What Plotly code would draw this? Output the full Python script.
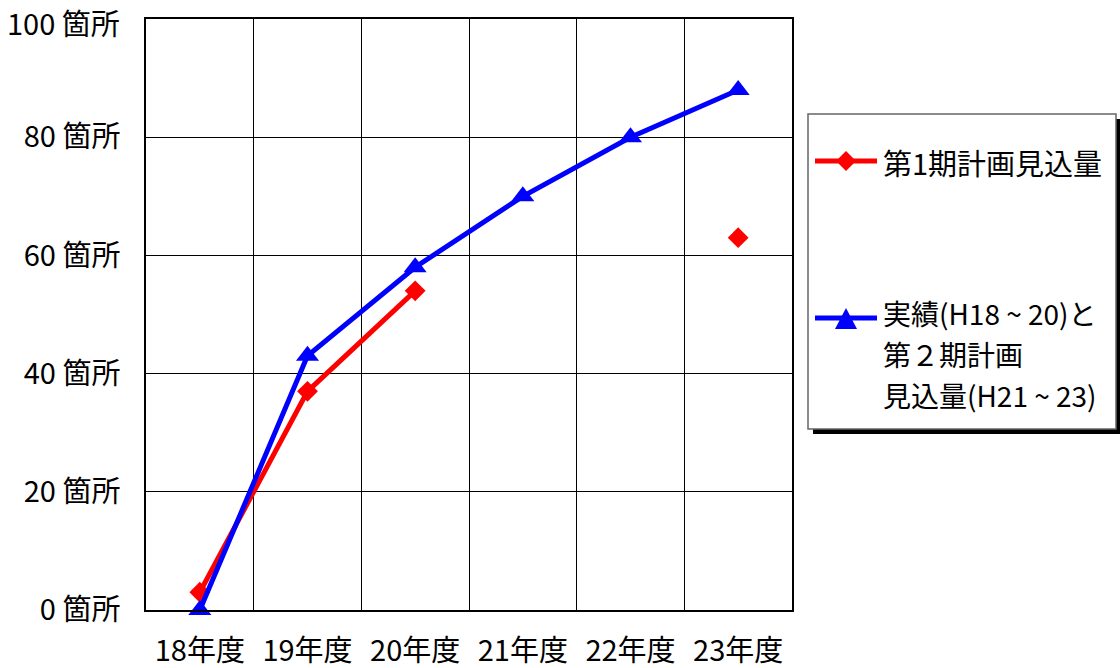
import plotly.graph_objects as go

categories = ["18年度", "19年度", "20年度", "21年度", "22年度", "23年度"]
plan1 = [3, 37, 54, None, None, 63]
actual_plan2 = [0, 43, 58, 70, 80, 88]
y_tickvals = [0, 20, 40, 60, 80, 100]
y_ticktext = [f"{v} 箇所" for v in y_tickvals]
name_red = "第1期計画見込量"
name_blue_lines = ["実績(H18 ~ 20)と", "第２期計画", "見込量(H21 ~ 23)"]

FONT = "Noto Sans CJK JP, Noto Sans, sans-serif"
W, H = 1120, 668
L, R, T, B = 146, 792, 19, 610


def px(x):
    return (x - L) / (R - L)


def py(y):
    return (B - y) / (B - T)


fig = go.Figure()
fig.add_trace(go.Scatter(
    x=categories, y=plan1, mode="lines+markers", name=name_red,
    line=dict(color="#ff0000", width=5),
    marker=dict(symbol="diamond", size=16, color="#ff0000"),
    connectgaps=False, cliponaxis=False, showlegend=False))
fig.add_trace(go.Scatter(
    x=categories, y=actual_plan2, mode="lines+markers", name="<br>".join(name_blue_lines),
    line=dict(color="#0000ff", width=5),
    marker=dict(symbol="triangle-up", size=20, color="#0000ff"),
    cliponaxis=False, showlegend=False))

shapes = []
annotations = []
# legend box with shadow
shapes.append(dict(type="rect", xref="paper", yref="paper",
                   x0=px(813), x1=px(1120), y0=py(434), y1=py(119),
                   fillcolor="black", line=dict(width=0), layer="above"))
shapes.append(dict(type="rect", xref="paper", yref="paper",
                   x0=px(808), x1=px(1116), y0=py(429), y1=py(114),
                   fillcolor="white", line=dict(color="#666666", width=1.5), layer="above"))
# red legend sample
shapes.append(dict(type="line", xref="paper", yref="paper",
                   x0=px(815), x1=px(877), y0=py(161), y1=py(161),
                   line=dict(color="#ff0000", width=5), layer="above"))
cx, cy, r = 846, 161, 10
shapes.append(dict(type="path", xref="paper", yref="paper",
                   path=f"M {px(cx - r)} {py(cy)} L {px(cx)} {py(cy - r)} L {px(cx + r)} {py(cy)} L {px(cx)} {py(cy + r)} Z",
                   fillcolor="#ff0000", line=dict(width=0), layer="above"))
# blue legend sample
shapes.append(dict(type="line", xref="paper", yref="paper",
                   x0=px(815), x1=px(877), y0=py(318), y1=py(318),
                   line=dict(color="#0000ff", width=5), layer="above"))
shapes.append(dict(type="path", xref="paper", yref="paper",
                   path=f"M {px(835)} {py(329)} L {px(846)} {py(308)} L {px(857)} {py(329)} Z",
                   fillcolor="#0000ff", line=dict(width=0), layer="above"))

annotations.append(dict(xref="paper", yref="paper", x=px(881), y=py(162),
                        text=name_red, showarrow=False, xanchor="left", yanchor="middle",
                        font=dict(family=FONT, size=29, color="black")))
for i, t in enumerate(name_blue_lines):
    annotations.append(dict(xref="paper", yref="paper", x=px(881), y=py(313 + 41 * i),
                            text=t, showarrow=False, xanchor="left", yanchor="middle",
                            font=dict(family=FONT, size=28, color="black")))

# top y tick label drawn as annotation so it stays inside the page
tick_labels = list(y_ticktext)
top_label = tick_labels[-1]
tick_labels[-1] = ""
annotations.append(dict(xref="paper", yref="paper", x=0, y=1, xshift=-26, yshift=T - 1,
                        text=top_label, showarrow=False, xanchor="right", yanchor="top",
                        borderpad=0, borderwidth=0,
                        font=dict(family=FONT, size=29, color="black")))

fig.update_layout(
    width=W, height=H,
    margin=dict(l=L, r=W - R, t=T, b=H - B, pad=0, autoexpand=False),
    paper_bgcolor="white", plot_bgcolor="white",
    font=dict(family=FONT, size=29, color="black"),
    showlegend=False,
    shapes=shapes, annotations=annotations,
    xaxis=dict(type="category", categoryorder="array", categoryarray=categories,
               range=[-0.5, 5.5], tickson="boundaries", showgrid=True,
               gridcolor="black", gridwidth=1, showline=True, linecolor="black",
               linewidth=1.5, mirror=True, ticks="", ticklabelstandoff=14,
               automargin=False,
               tickfont=dict(family=FONT, size=29, color="black"), zeroline=False),
    yaxis=dict(range=[0, 100], tickvals=y_tickvals, ticktext=tick_labels,
               showgrid=True, gridcolor="black", gridwidth=1, showline=True,
               linecolor="black", linewidth=1.5, mirror=True, ticks="",
               ticklabelstandoff=18, zeroline=False, ticklabeloverflow="allow",
               automargin=False,
               tickfont=dict(family=FONT, size=29, color="black")),
)

fig.write_html("out.html", post_script="document.body.style.margin='0';",
               config={"displayModeBar": False})
